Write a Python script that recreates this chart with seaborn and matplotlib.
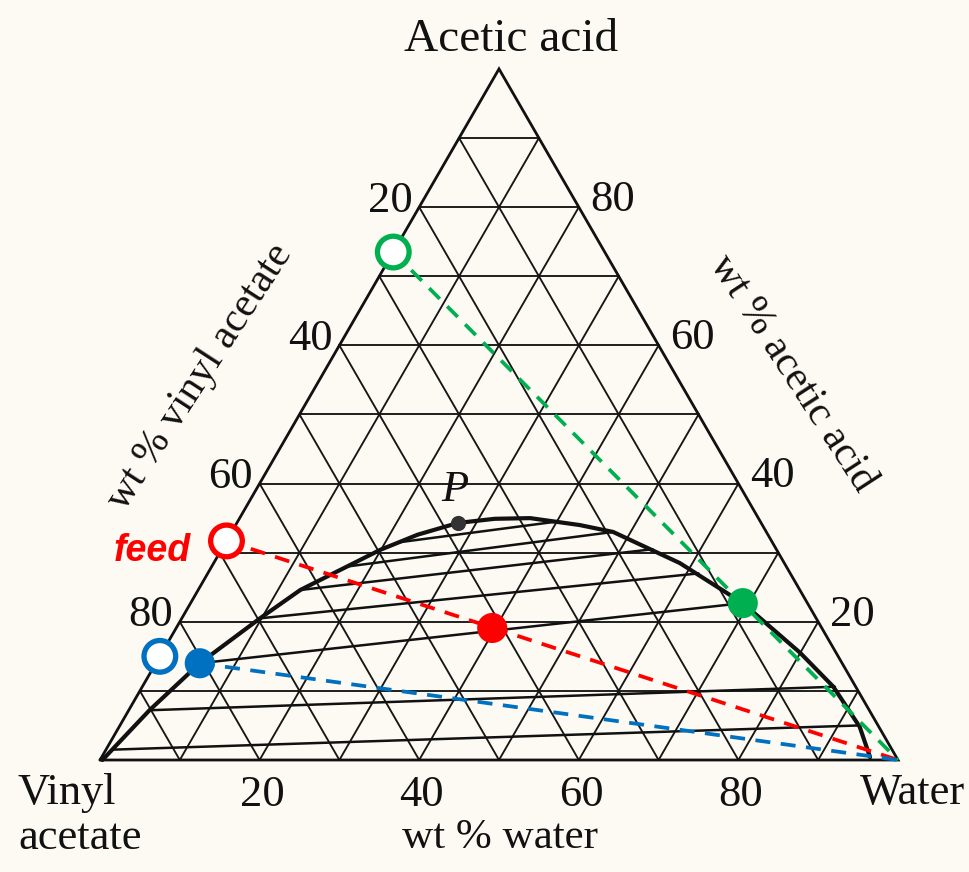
import numpy as np
import pandas as pd
import matplotlib.pyplot as plt
import seaborn as sns

# ==========================================
# DATA (wt % water, wt % acetic acid)
# ==========================================
curve_water = [0.3, 2.6, 5.5, 9.8, 12.8, 19.9, 23.5, 27.7, 32.0, 36.4, 43.1, 47.8, 58.4, 69.2, 80.0, 86.6, 92.8, 96.3]
curve_acid = [0.0, 7.2, 14.0, 20.5, 24.6, 30.4, 32.6, 34.3, 34.9, 35.0, 34.0, 33.0, 28.5, 22.7, 15.5, 10.6, 4.8, 0.4]

tie_left_water = [0.9, 2.6, 5.5, 9.8, 12.8, 17.0, 21.7]
tie_left_acid = [1.5, 7.2, 14.0, 20.5, 24.6, 28.0, 31.5]
tie_right_water = [92.6, 86.8, 69.2, 61.5, 54.0, 47.8, 40.0]
tie_right_acid = [5.0, 10.6, 22.7, 27.0, 30.5, 33.0, 34.5]

plait_point = (27.7, 34.3)

# open circles on the solvent-free (left) edge
feed_acid = 31.7
blue_open_acid = 15.0
green_open_acid = 73.5

# filled points
raffinate = (5.5, 14.0)
mixture = (39.6, 19.1)
extract = (69.2, 22.7)

ticks = [20, 40, 60, 80]

RED = "#ff0000"
BLUE = "#0070c0"
GREEN = "#00b050"
INK = "#111111"
SQ3 = np.sqrt(3) / 2


def tern(w, a):
    w = np.asarray(w, dtype=float)
    a = np.asarray(a, dtype=float)
    return w + a / 2, a * SQ3


sns.set_style("white")
plt.rcParams["font.family"] = ["Liberation Serif", "DejaVu Serif"]
plt.rcParams["text.color"] = INK

fig = plt.figure(figsize=(9.7, 8.72), dpi=100, facecolor="#fcfaf3")
ax = fig.add_axes([0, 0, 1, 1])
ax.set_facecolor("#fcfaf3")
px = 7.98  # pixels per wt% unit
ax.set_xlim(-100 / px, 870 / px)
ax.set_ylim(-112 / px, 760 / px)
ax.axis("off")

# ---- grid ----
for i in range(10, 100, 10):
    for seg in [((0, i), (100 - i, i)), ((i, 0), (i, 100 - i)), ((100 - i, 0), (0, 100 - i))]:
        xs, ys = tern([seg[0][0], seg[1][0]], [seg[0][1], seg[1][1]])
        ax.plot(xs, ys, color="#161616", lw=1.35, zorder=1)

xs, ys = tern([0, 100, 0, 0], [0, 0, 100, 0])
ax.plot(xs, ys, color=INK, lw=2.0, zorder=2, solid_joinstyle="miter")

# ---- tie lines ----
rows = []
for k in range(len(tie_left_water)):
    for w, a in [(tie_left_water[k], tie_left_acid[k]), (tie_right_water[k], tie_right_acid[k])]:
        x, y = tern(w, a)
        rows.append({"x": x, "y": y, "tie": k})
ties = pd.DataFrame(rows)
sns.lineplot(data=ties, x="x", y="y", units="tie", estimator=None, sort=False,
             color=INK, lw=1.8, ax=ax, zorder=3)

# ---- binodal curve ----
cx, cy = tern(curve_water, curve_acid)
sns.lineplot(x=cx, y=cy, sort=False, estimator=None, color=INK, lw=3.0, ax=ax, zorder=4)

# ---- dashed mixing lines to water vertex ----
for (w0, a0), col in [((0, green_open_acid), GREEN), ((0, feed_acid), RED), (raffinate, BLUE)]:
    lx, ly = tern([w0, 100], [a0, 0])
    sns.lineplot(x=lx, y=ly, sort=False, estimator=None, color=col, lw=2.7, ax=ax, zorder=5)
    ax.lines[-1].set_dashes((4, 2.8))

# ---- markers ----
ox, oy = tern([0, 0, 0], [feed_acid, blue_open_acid, green_open_acid])
sns.scatterplot(x=ox, y=oy, s=520, legend=False, ax=ax, zorder=6)
ax.collections[-1].set_facecolor("white")
ax.collections[-1].set_edgecolor([RED, BLUE, GREEN])
ax.collections[-1].set_linewidth(3.8)

fx, fy = tern([raffinate[0], mixture[0], extract[0]], [raffinate[1], mixture[1], extract[1]])
sns.scatterplot(x=fx, y=fy, s=470, linewidth=0, legend=False, ax=ax, zorder=7)
ax.collections[-1].set_facecolor([BLUE, RED, GREEN])

ppx, ppy = tern(*plait_point)
sns.scatterplot(x=[ppx], y=[ppy], color="#333333", s=120, linewidth=0, ax=ax, zorder=7)

# ---- text ----
fs = 32
for t in ticks:
    bx, by = tern(t, 0)
    ax.text(bx + 0.3, by - 4.4, str(t), ha="center", va="center", fontsize=fs)
    lx, ly = tern(0, 100 - t)
    ax.text(lx - 3.6, ly + 0.8, str(t), ha="center", va="center", fontsize=fs)
    rx, ry = tern(100 - t, t)
    ax.text(rx + 4.3, ry + 0.9, str(t), ha="center", va="center", fontsize=fs)

ax.text(411 / px, (760 - 40) / px, "Acetic acid", ha="center", va="center", fontsize=fs + 2)
ax.text(-82 / px, (760 - 793) / px, "Vinyl", ha="left", va="center", fontsize=fs)
ax.text(-82 / px, (760 - 838) / px, "acetate", ha="left", va="center", fontsize=fs)
ax.text(813 / px, (760 - 793) / px, "Water", ha="center", va="center", fontsize=fs)
ax.text(400 / px, (760 - 838) / px, "wt % water", ha="center", va="center", fontsize=fs - 1)
ax.text(100 / px, (760 - 377) / px, "wt % vinyl acetate", ha="center", va="center",
        fontsize=fs - 2, rotation=57)
ax.text(692 / px, (760 - 373) / px, "wt % acetic acid", ha="center", va="center",
        fontsize=fs - 2, rotation=-57)
ax.text(355 / px, (760 - 490) / px, "P", ha="center", va="center", fontsize=fs, style="italic")
ax.text(52 / px, (760 - 551) / px, "feed", ha="center", va="center", fontsize=27,
        color=RED, fontweight="bold", style="italic", family=["Liberation Sans", "DejaVu Sans"])

fig.savefig("out.png", dpi=100, facecolor=fig.get_facecolor())
